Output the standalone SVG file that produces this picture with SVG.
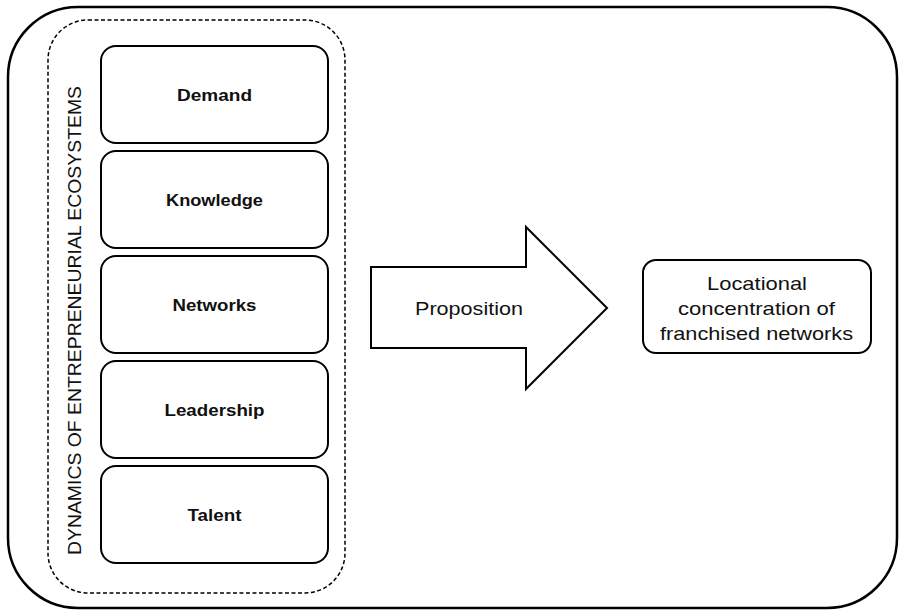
<svg xmlns="http://www.w3.org/2000/svg" width="899" height="610" viewBox="0 0 899 610">
<style>
.box{fill:#fff;stroke:#000;stroke-width:2}
.lbl{font-family:"Liberation Sans",Arial,sans-serif;font-size:16.5px;font-weight:bold;text-anchor:middle;fill:#111}
.reg{font-family:"Liberation Sans",Arial,sans-serif;font-size:19px;text-anchor:middle;fill:#111}
</style>
<rect width="899" height="610" fill="#fff"/>
<g id="frame"><rect x="8" y="7" width="889" height="601" rx="70" ry="70" fill="#fff" stroke="#000" stroke-width="2.5"/></g>
<g id="ecosystem">
<rect x="48" y="20" width="297" height="573" rx="40" ry="40" fill="none" stroke="#000" stroke-width="1.5" stroke-dasharray="4,2.5"/>
<text class="reg" transform="translate(81,320.5) rotate(-90)" textLength="469" lengthAdjust="spacingAndGlyphs">DYNAMICS OF ENTREPRENEURIAL ECOSYSTEMS</text>
</g>
<g id="demand"><rect class="box" x="101" y="46" width="227" height="97" rx="15"/><text class="lbl" x="214.5" y="101" textLength="75" lengthAdjust="spacingAndGlyphs">Demand</text></g>
<g id="knowledge"><rect class="box" x="101" y="151" width="227" height="97" rx="15"/><text class="lbl" x="214.5" y="206" textLength="97" lengthAdjust="spacingAndGlyphs">Knowledge</text></g>
<g id="networks"><rect class="box" x="101" y="256" width="227" height="97" rx="15"/><text class="lbl" x="214.5" y="311" textLength="84" lengthAdjust="spacingAndGlyphs">Networks</text></g>
<g id="leadership"><rect class="box" x="101" y="361" width="227" height="97" rx="15"/><text class="lbl" x="214.5" y="416" textLength="100" lengthAdjust="spacingAndGlyphs">Leadership</text></g>
<g id="talent"><rect class="box" x="101" y="466" width="227" height="97" rx="15"/><text class="lbl" x="214.5" y="521" textLength="54" lengthAdjust="spacingAndGlyphs">Talent</text></g>
<g id="connectors">
<g id="proposition"><path d="M371,267 H526 V227 L607,308 L526,389 V348 H371 Z" fill="#fff" stroke="#000" stroke-width="2"/><text class="reg" x="469" y="315" textLength="108" lengthAdjust="spacingAndGlyphs">Proposition</text></g>
</g>
<g id="outcome"><rect class="box" x="643" y="260" width="228" height="93" rx="13"/>
<text class="reg" x="757" y="290" textLength="100" lengthAdjust="spacingAndGlyphs">Locational</text>
<text class="reg" x="756.5" y="315" textLength="157" lengthAdjust="spacingAndGlyphs">concentration of</text>
<text class="reg" x="756.5" y="340" textLength="193" lengthAdjust="spacingAndGlyphs">franchised networks</text></g>
</svg>
